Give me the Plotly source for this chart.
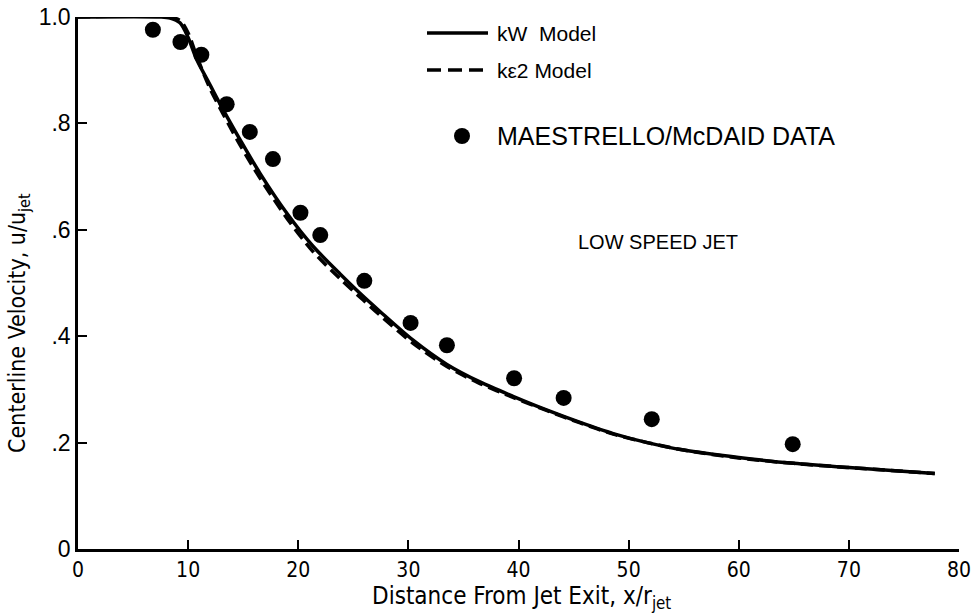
import plotly.graph_objects as go

# Data
kw_x = [0, 7.45, 8.36, 9.26, 9.99, 10.8, 12.0, 13.2, 14.7, 16.5, 19.0, 21.3, 23.8, 25.9, 27.4,
        30.4, 33.5, 36.5, 39.5, 42.6, 45.6, 48.6, 51.7, 55.0, 60.0, 65.0, 70.0, 77.8]
kw_y = [1.0, 1.0, 0.998, 0.989, 0.962, 0.919, 0.872, 0.825, 0.770, 0.707, 0.630, 0.570, 0.517,
        0.475, 0.447, 0.393, 0.347, 0.314, 0.287, 0.261, 0.238, 0.217, 0.200, 0.186, 0.172,
        0.161, 0.153, 0.142]

ke_x = [0, 8.3, 9.3, 10.0, 10.8, 12.0, 13.2, 14.7, 16.5, 19.0, 21.3, 23.8, 25.9, 27.4, 30.4,
        33.5, 36.5, 39.5, 42.6, 45.6, 48.6, 51.7, 55.0, 60.0, 65.0, 70.0, 77.8]
ke_y = [1.0, 1.0, 0.993, 0.970, 0.925, 0.865, 0.817, 0.760, 0.698, 0.621, 0.560, 0.508, 0.468,
        0.440, 0.387, 0.343, 0.311, 0.285, 0.260, 0.237, 0.216, 0.200, 0.186, 0.171, 0.161,
        0.153, 0.142]

data_x = [6.8, 9.3, 11.2, 13.5, 15.6, 17.7, 20.2, 22.0, 26.0, 30.2, 33.5, 39.6, 44.1, 52.1, 64.9]
data_y = [0.976, 0.953, 0.929, 0.836, 0.784, 0.733, 0.632, 0.590, 0.504, 0.425, 0.383, 0.321,
          0.284, 0.244, 0.197]

x_ticks = [0, 10, 20, 30, 40, 50, 60, 70, 80]
x_tick_labels = ["0", "10", "20", "30", "40", "50", "60", "70", "80"]
y_ticks = [0, 0.2, 0.4, 0.6, 0.8, 1.0]
y_tick_labels = ["0", ".2", ".4", ".6", ".8", "1.0"]

FONT = "Liberation Sans"
COND = "DejaVu Sans Condensed"

fig = go.Figure()
fig.add_trace(go.Scatter(x=kw_x, y=kw_y, mode="lines", line=dict(color="black", width=3.5),
                         line_shape="spline", line_smoothing=0.8, showlegend=False,
                         name="kW Model"))
fig.add_trace(go.Scatter(x=ke_x, y=ke_y, mode="lines",
                         line=dict(color="black", width=3.5, dash="12px,6px"),
                         line_shape="spline", line_smoothing=0.8, showlegend=False,
                         name="kε2 Model"))
fig.add_trace(go.Scatter(x=data_x, y=data_y, mode="markers",
                         marker=dict(color="black", size=16), showlegend=False,
                         name="MAESTRELLO/McDAID DATA"))

# custom legend (paper coords)
def px2paper(px, py):
    return (px - 78) / 881.0, (549 - py) / 532.0

x0, y0 = px2paper(427, 33)
x1, _ = px2paper(488, 33)
fig.add_shape(type="line", xref="paper", yref="paper", x0=x0, x1=x1, y0=y0, y1=y0,
              line=dict(color="black", width=3.5))
x0, y1 = px2paper(427, 70)
fig.add_shape(type="line", xref="paper", yref="paper", x0=x0, x1=x1, y0=y1, y1=y1,
              line=dict(color="black", width=3.5, dash="14px,7px"))
cx, cy = px2paper(462, 136)
fig.add_shape(type="circle", xref="paper", yref="paper", xsizemode="pixel", ysizemode="pixel",
              xanchor=cx, yanchor=cy, x0=-8, x1=8, y0=-8, y1=8,
              fillcolor="black", line=dict(color="black", width=0))

tx, _ = px2paper(495, 0)
fig.add_annotation(x=tx, y=y0, xref="paper", yref="paper", text="kW  Model", showarrow=False,
                   xanchor="left", yanchor="middle", font=dict(family=FONT, size=21, color="black"))
fig.add_annotation(x=tx, y=y1, xref="paper", yref="paper", text="kε2 Model", showarrow=False,
                   xanchor="left", yanchor="middle", font=dict(family=FONT, size=21, color="black"))
fig.add_annotation(x=tx, y=cy, xref="paper", yref="paper", text="MAESTRELLO/McDAID DATA",
                   showarrow=False, xanchor="left", yanchor="middle",
                   font=dict(family=FONT, size=25, color="black"))
lx, ly = px2paper(576, 242)
fig.add_annotation(x=lx, y=ly, xref="paper", yref="paper", text="LOW SPEED JET",
                   showarrow=False, xanchor="left", yanchor="middle",
                   font=dict(family=FONT, size=20, color="black"))

# axis titles
fig.add_annotation(x=0.503, y=0, xref="paper", yref="paper", yshift=-31,
                   text="Distance From Jet Exit, x/r<sub>jet</sub>", showarrow=False,
                   xanchor="center", yanchor="top",
                   font=dict(family=COND, size=24, color="black"))
fig.add_annotation(x=0, y=0.425, xref="paper", yref="paper", xshift=-42,
                   text="Centerline Velocity, u/u<sub>jet</sub>", showarrow=False, textangle=-90,
                   xanchor="right", yanchor="middle",
                   font=dict(family=COND, size=23, color="black"))

fig.update_xaxes(range=[0, 80], tickvals=x_ticks, ticktext=x_tick_labels, ticks="inside",
                 ticklen=9, tickwidth=2, tickcolor="black", showline=True, linewidth=2.5,
                 linecolor="black", showgrid=False, zeroline=False, automargin=False,
                 tickfont=dict(family=COND, size=21, color="black"))
fig.update_yaxes(range=[0, 1.0], tickvals=y_ticks, ticktext=y_tick_labels, ticks="inside",
                 ticklen=9, tickwidth=2, tickcolor="black", showline=True, linewidth=2.5,
                 linecolor="black", showgrid=False, zeroline=False, automargin=False,
                 tickfont=dict(family=FONT, size=23, color="black"))

fig.update_layout(width=975, height=616, margin=dict(l=78, r=16, t=17, b=67, autoexpand=False),
                  plot_bgcolor="white", paper_bgcolor="white")

fig.write_html("out.html", config={"displayModeBar": False},
               post_script="document.body.style.margin='0';document.body.style.padding='0';")
